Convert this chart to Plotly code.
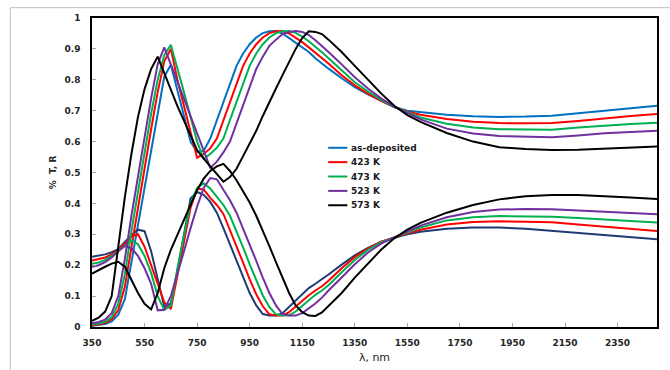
import plotly.graph_objects as go

# ---------------- data ----------------
wavelength = [350, 375, 400, 425, 450, 475, 500, 525, 550, 575, 600, 625, 650,
              675, 700, 725, 750, 775, 800, 825, 850, 875, 900, 925, 950, 975, 1000,
              1025, 1050, 1075, 1100, 1125, 1150, 1175, 1200, 1225, 1250,
              1300, 1350, 1400, 1450, 1500, 1550, 1600,
              1700, 1800, 1900, 2000, 2100, 2200, 2300, 2400, 2500]

sample_names = ["as-deposited", "423 K", "473 K", "523 K", "573 K"]
t_colors = ["#0070C0", "#FF0000", "#00B050", "#7030A0", "#000000"]
r_colors = ["#1F3B73", "#FF0000", "#00B050", "#7030A0", "#000000"]

T_asdep = [0.004, 0.006, 0.010, 0.018, 0.040, 0.090, 0.210, 0.335, 0.460, 0.580, 0.700, 0.810, 0.849,
           0.766, 0.683, 0.600, 0.567, 0.570, 0.610, 0.670, 0.730, 0.790, 0.845, 0.885, 0.915, 0.937, 0.951,
           0.957, 0.958, 0.950, 0.935, 0.920, 0.907, 0.890, 0.870, 0.852, 0.836,
           0.805, 0.776, 0.753, 0.733, 0.712, 0.700, 0.695,
           0.687, 0.682, 0.680, 0.681, 0.684, 0.692, 0.700, 0.708, 0.716]
T_423 = [0.005, 0.008, 0.013, 0.025, 0.055, 0.130, 0.260, 0.390, 0.520, 0.640, 0.760, 0.860, 0.900,
         0.800, 0.715, 0.630, 0.548, 0.560, 0.578, 0.610, 0.670, 0.730, 0.790, 0.845, 0.885, 0.915, 0.937,
         0.951, 0.957, 0.958, 0.950, 0.937, 0.922, 0.905, 0.888, 0.871, 0.853,
         0.815, 0.782, 0.755, 0.732, 0.712, 0.697, 0.687,
         0.673, 0.664, 0.660, 0.659, 0.660, 0.667, 0.676, 0.683, 0.689]
T_473 = [0.008, 0.011, 0.017, 0.032, 0.075, 0.170, 0.310, 0.440, 0.570, 0.690, 0.800, 0.880, 0.913,
         0.840, 0.760, 0.680, 0.600, 0.545, 0.560, 0.580, 0.610, 0.670, 0.730, 0.790, 0.845, 0.885, 0.915,
         0.937, 0.951, 0.957, 0.958, 0.952, 0.940, 0.925, 0.908, 0.889, 0.870,
         0.830, 0.792, 0.762, 0.735, 0.712, 0.694, 0.678,
         0.658, 0.646, 0.640, 0.638, 0.638, 0.646, 0.652, 0.657, 0.661]
T_523 = [0.012, 0.016, 0.024, 0.045, 0.100, 0.220, 0.360, 0.490, 0.620, 0.740, 0.850, 0.905, 0.850,
         0.795, 0.740, 0.685, 0.630, 0.575, 0.515, 0.535, 0.565, 0.600, 0.660, 0.720, 0.780, 0.835, 0.875,
         0.910, 0.930, 0.948, 0.955, 0.958, 0.955, 0.945, 0.928, 0.910, 0.890,
         0.850, 0.808, 0.772, 0.740, 0.713, 0.692, 0.672,
         0.642, 0.626, 0.618, 0.615, 0.614, 0.620, 0.627, 0.631, 0.635]
T_573 = [0.020, 0.030, 0.050, 0.100, 0.260, 0.420, 0.560, 0.680, 0.770, 0.835, 0.875, 0.820, 0.765,
         0.715, 0.668, 0.620, 0.572, 0.545, 0.519, 0.495, 0.470, 0.485, 0.512, 0.553, 0.592, 0.635, 0.683,
         0.730, 0.772, 0.815, 0.857, 0.900, 0.935, 0.957, 0.955, 0.948, 0.930,
         0.890, 0.845, 0.800, 0.756, 0.716, 0.686, 0.664,
         0.628, 0.600, 0.582, 0.576, 0.573, 0.574, 0.577, 0.580, 0.584]

R_asdep = [0.227, 0.230, 0.235, 0.242, 0.252, 0.275, 0.297, 0.315, 0.310, 0.245, 0.150, 0.066, 0.076,
           0.180, 0.300, 0.416, 0.437, 0.428, 0.405, 0.370, 0.320, 0.268, 0.215, 0.160, 0.110, 0.070, 0.042,
           0.037, 0.037, 0.045, 0.065, 0.085, 0.108, 0.126, 0.140, 0.154, 0.170,
           0.202, 0.232, 0.256, 0.275, 0.289, 0.300, 0.308,
           0.318, 0.322, 0.322, 0.318, 0.311, 0.305, 0.298, 0.291, 0.284]
R_423 = [0.215, 0.219, 0.225, 0.235, 0.250, 0.270, 0.293, 0.300, 0.260, 0.200, 0.140, 0.080, 0.058,
         0.170, 0.280, 0.385, 0.448, 0.445, 0.418, 0.395, 0.366, 0.315, 0.262, 0.208, 0.154, 0.106, 0.067,
         0.041, 0.037, 0.037, 0.048, 0.066, 0.086, 0.103, 0.118, 0.132, 0.150,
         0.190, 0.226, 0.254, 0.276, 0.290, 0.303, 0.315,
         0.332, 0.340, 0.342, 0.341, 0.339, 0.332, 0.325, 0.318, 0.311]
R_473 = [0.205, 0.209, 0.217, 0.230, 0.247, 0.263, 0.280, 0.268, 0.230, 0.175, 0.100, 0.055, 0.070,
         0.190, 0.300, 0.400, 0.450, 0.465, 0.448, 0.420, 0.395, 0.360, 0.310, 0.258, 0.203, 0.150, 0.102,
         0.065, 0.041, 0.037, 0.038, 0.050, 0.068, 0.088, 0.104, 0.118, 0.135,
         0.177, 0.217, 0.250, 0.274, 0.290, 0.306, 0.322,
         0.345, 0.355, 0.359, 0.359, 0.357, 0.353, 0.347, 0.343, 0.338]
R_523 = [0.195, 0.200, 0.210, 0.225, 0.245, 0.262, 0.255, 0.230, 0.190, 0.140, 0.054, 0.056, 0.100,
         0.170, 0.245, 0.320, 0.390, 0.450, 0.482, 0.478, 0.445, 0.410, 0.370, 0.320, 0.268, 0.214, 0.160,
         0.110, 0.070, 0.042, 0.037, 0.037, 0.045, 0.060, 0.076, 0.095, 0.118,
         0.160, 0.203, 0.241, 0.270, 0.290, 0.310, 0.328,
         0.355, 0.372, 0.380, 0.382, 0.381, 0.377, 0.372, 0.368, 0.365]
R_573 = [0.173, 0.185, 0.195, 0.205, 0.211, 0.195, 0.150, 0.110, 0.075, 0.057, 0.110, 0.190, 0.250,
         0.300, 0.347, 0.395, 0.443, 0.480, 0.505, 0.520, 0.528, 0.505, 0.475, 0.440, 0.403, 0.360, 0.312,
         0.262, 0.210, 0.158, 0.110, 0.070, 0.048, 0.037, 0.036, 0.047, 0.068,
         0.110, 0.160, 0.205, 0.250, 0.287, 0.315, 0.337,
         0.370, 0.395, 0.413, 0.423, 0.427, 0.427, 0.424, 0.419, 0.414]

T_series = [T_asdep, T_423, T_473, T_523, T_573]
R_series = [R_asdep, R_423, R_473, R_523, R_573]

x_ticks = list(range(350, 2351, 200))
y_ticks = [round(0.1 * i, 1) for i in range(11)]

# ---------------- figure ----------------
fig = go.Figure()
for name, tc, rc, t, r in zip(sample_names, t_colors, r_colors, T_series, R_series):
    fig.add_trace(go.Scatter(x=wavelength, y=t, mode="lines", name=name,
                             line=dict(color=tc, width=2), showlegend=False))
    fig.add_trace(go.Scatter(x=wavelength, y=r, mode="lines", name=name + " (R)",
                             line=dict(color=rc, width=2), showlegend=False))

tick_font = dict(family="DejaVu Sans", size=9, color="#262626", weight="bold")

fig.update_layout(
    width=670, height=370,
    margin=dict(l=92, r=13, t=18, b=43, pad=0, autoexpand=False),
    paper_bgcolor="white", plot_bgcolor="white",
    showlegend=False,
    font=dict(family="DejaVu Sans", size=9, color="#262626"),
    xaxis=dict(range=[350, 2500], tickmode="array", tickvals=x_ticks,
               ticks="inside", ticklen=4, tickcolor="#a6a6a6", tickwidth=1,
               showline=True, linecolor="black", linewidth=1.5, mirror=True,
               showgrid=False, zeroline=False, tickfont=tick_font,
               ticklabelstandoff=6, automargin=False,
               title=dict(text="λ, nm", font=dict(family="DejaVu Sans", size=11, color="#1a1a1a"),
                          standoff=7)),
    yaxis=dict(range=[0, 1], tickmode="array", tickvals=y_ticks,
               ticks="inside", ticklen=4, tickcolor="#a6a6a6", tickwidth=1,
               showline=True, linecolor="black", linewidth=1.5, mirror=True,
               showgrid=False, zeroline=False, tickfont=tick_font,
               ticklabelstandoff=8, automargin=False,
               title=dict(text="%\u00a0 T, R", font=dict(family="DejaVu Sans", size=9, color="#262626",
                                                          weight="bold"),
                          standoff=6)),
)

# custom legend (only the five samples, as in the reference)
leg_x0, leg_x1, leg_y0, leg_dy = 0.418, 0.452, 0.58, 0.0465
for i, (name, col) in enumerate(zip(sample_names, t_colors)):
    yy = leg_y0 - i * leg_dy
    fig.add_shape(type="line", xref="paper", yref="paper", x0=leg_x0, x1=leg_x1, y0=yy, y1=yy,
                  line=dict(color=col, width=2))
    fig.add_annotation(xref="paper", yref="paper", x=leg_x1 + 0.002, y=yy, text=name,
                       showarrow=False, xanchor="left", yanchor="middle",
                       font=dict(family="DejaVu Sans", size=9, color="#1a1a1a", weight="bold"))

# light grey outer frame of the chart area
fig.add_shape(type="line", xref="paper", yref="paper", x0=-0.1446, x1=1.03, y0=1.0334, y1=1.0334,
              line=dict(color="#bfbfbf", width=1))
fig.add_shape(type="line", xref="paper", yref="paper", x0=-0.1446, x1=-0.1446, y0=-0.15, y1=1.0334,
              line=dict(color="#bfbfbf", width=1))

fig.write_html("out.html")
